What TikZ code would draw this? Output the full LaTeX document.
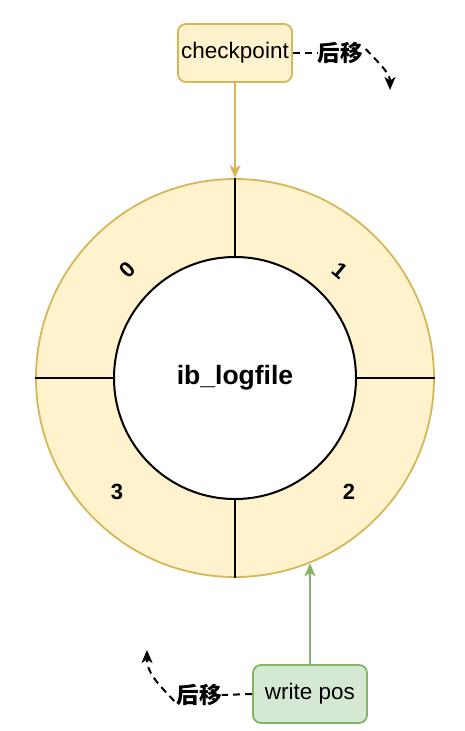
\documentclass[tikz,border=0pt]{standalone}
\usepackage{fontspec}
\setmainfont{Liberation Sans}
\newfontfamily\cjk{Noto Sans CJK SC}
\usetikzlibrary{arrows.meta}
\definecolor{yelfill}{HTML}{FFF2CC}
\definecolor{yelline}{HTML}{D6B656}
\definecolor{grnfill}{HTML}{D5E8D4}
\definecolor{grnline}{HTML}{82B366}
\tikzset{
  box/.style={rectangle, rounded corners=8pt, minimum width=114pt, minimum height=58pt, line width=1.8pt, inner sep=1pt, font=\fontsize{22.5}{26}\selectfont},
  lbl/.style={inner sep=0pt, font=\fontsize{22.5}{26}\selectfont\cjk\bfseries},
  dig/.style={inner sep=0pt, font=\fontsize{22}{26}\selectfont\bfseries},
  tipA/.style={-{Stealth[length=13pt,width=11pt,inset=3.5pt]}},
  dashline/.style={dash pattern=on 7pt off 5pt, line width=2pt, black},
  divider/.style={line width=1.8pt, black}
}
\begin{document}
\begin{tikzpicture}[x=1pt,y=-1pt]
\useasboundingbox (0,0) rectangle (465,731);
% ring
\node[circle, draw=yelline, fill=yelfill, line width=1.8pt, minimum size=398pt, inner sep=0pt] (outer) at (235,378) {};
\node[circle, draw=black, fill=white, line width=2pt, minimum size=242pt, inner sep=0pt, font=\fontsize{26.5}{30}\selectfont\bfseries] (inner) at (235,378) {ib\_logfile};
\draw[divider] (inner.north) -- (outer.north);
\draw[divider] (inner.south) -- (outer.south);
\draw[divider] (inner.west) -- (outer.west);
\draw[divider] (inner.east) -- (outer.east);
% digits
\node[dig, rotate=45] (d0) at (127,270) {0};
\node[dig, rotate=-40] (d1) at (340,271) {1};
\node[dig] (d2) at (349,492) {2};
\node[dig] (d3) at (117,492) {3};
% checkpoint
\node[box, draw=yelline, fill=yelfill] (cp) at (235,53) {checkpoint};
\draw[yelline, line width=1.8pt, tipA] (cp.south) -- (outer.north);
\node[lbl] (l1) at (340,53) {后移};
\draw[dashline] (cp.east) -- (l1.west);
\coordinate (t1) at (390,90);
\draw[dashline, tipA] ([xshift=3pt,yshift=4pt]l1.east) .. controls (382,66) and (390,74) .. (t1);
% write pos
\node[box, draw=grnline, fill=grnfill] (wp) at (310,694) {write pos};
\draw[grnline, line width=1.8pt, tipA] (wp.north) -- (wp.north |- outer.-68);
\node[lbl] (l2) at (199,695) {后移};
\draw[dashline] (wp.west) -- (l2.east);
\coordinate (t2) at (147,650);
\draw[dashline, tipA] ([xshift=-2pt,yshift=-6pt]l2.west) .. controls (156,682) and (147,672) .. (t2);
\end{tikzpicture}
\end{document}
